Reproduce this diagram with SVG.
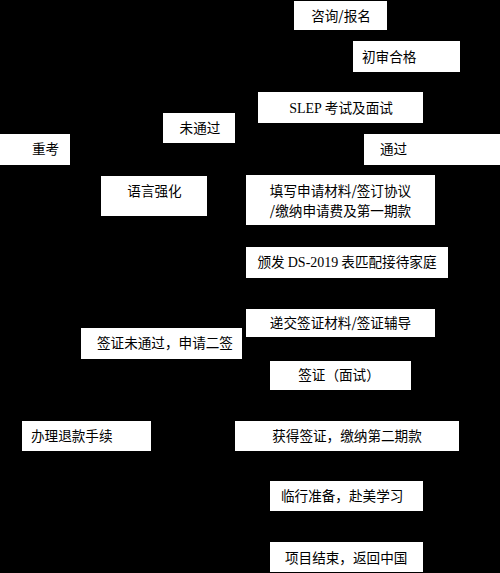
<svg xmlns="http://www.w3.org/2000/svg" width="500" height="573" viewBox="0 0 500 573">
<style>
.box{fill:#ffffff;stroke:none}
text{font-family:"Noto Sans CJK SC","Noto Sans",sans-serif;font-size:13.6px;fill:#000000}
.c{text-anchor:middle}
.lat{font-family:"Liberation Serif",serif;font-size:14px}
</style>
<rect x="0" y="0" width="500" height="573" fill="#000000"/>
<g id="connectors"></g>
<g id="n1"><rect class="box" x="294" y="1" width="93" height="29"/><text class="c" x="341" y="21">咨询/报名</text></g>
<g id="n2"><rect class="box" x="353" y="41" width="107" height="31"/><text x="362" y="62">初审合格</text></g>
<g id="n3"><rect class="box" x="258" y="92" width="165" height="31"/><text class="c" x="341" y="113"><tspan class="lat">SLEP</tspan> 考试及面试</text></g>
<g id="n4"><rect class="box" x="163" y="113" width="72" height="30"/><text class="c" x="200" y="133">未通过</text></g>
<g id="n5"><rect class="box" x="0" y="134" width="70" height="31"/><text x="32" y="154">重考</text></g>
<g id="n6"><rect class="box" x="364" y="134" width="136" height="31"/><text x="380" y="154">通过</text></g>
<g id="n7"><rect class="box" x="101" y="176" width="106" height="40"/><text class="c" x="154.5" y="196">语言强化</text></g>
<g id="n8"><rect class="box" x="246" y="175" width="189" height="50"/><text class="c" x="340.5" y="196">填写申请材料/签订协议</text><text class="c" x="340.5" y="216">/缴纳申请费及第一期款</text></g>
<g id="n9"><rect class="box" x="246" y="247" width="202" height="31"/><text class="c" x="347" y="267">颁发 <tspan class="lat">DS-2019</tspan> 表匹配接待家庭</text></g>
<g id="n10"><rect class="box" x="246" y="309" width="189" height="28"/><text class="c" x="340.5" y="328">递交签证材料/签证辅导</text></g>
<g id="n11"><rect class="box" x="81" y="328" width="161" height="31"/><text x="97" y="348">签证未通过，申请二签</text></g>
<g id="n12"><rect class="box" x="270" y="361" width="141" height="29"/><text class="c" x="339" y="380">签证（面试）</text></g>
<g id="n13"><rect class="box" x="22" y="421" width="129" height="30"/><text x="31" y="441">办理退款手续</text></g>
<g id="n14"><rect class="box" x="235" y="421" width="224" height="30"/><text class="c" x="347" y="441">获得签证，缴纳第二期款</text></g>
<g id="n15"><rect class="box" x="270" y="481" width="153" height="30"/><text x="281" y="501">临行准备，赴美学习</text></g>
<g id="n16"><rect class="box" x="270" y="542" width="153" height="30"/><text x="285" y="563">项目结束，返回中国</text></g>
</svg>
